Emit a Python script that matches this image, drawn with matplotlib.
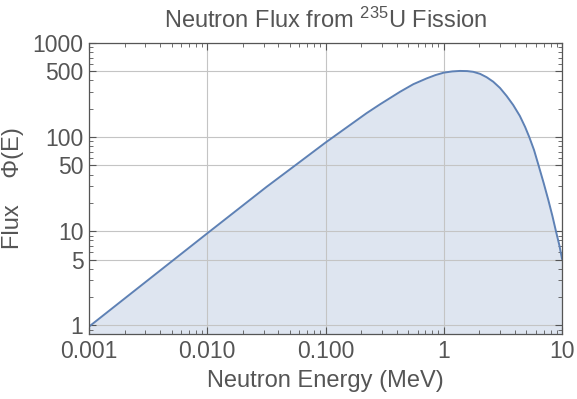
import matplotlib
matplotlib.use("Agg")
import matplotlib.pyplot as plt
from matplotlib.ticker import FixedLocator, FixedFormatter, LogLocator, NullFormatter

# values
energy = [0.001, 0.01, 0.0316, 0.0571, 0.1, 0.223, 0.289, 0.4266, 0.553,
          0.718, 0.85, 1.0, 1.18, 1.372, 1.58, 1.778, 2.03, 2.305, 2.62,
          2.99, 3.4, 3.87, 4.4, 4.88, 5.29, 5.8, 6.31, 7.0, 7.66, 8.3,
          8.89, 9.5, 10.0]
flux = [0.97, 9.5, 29.5, 51.5, 87.5, 180, 223, 303, 365,
        421, 456, 484, 499, 505, 503, 494, 470, 433, 388,
        333, 274, 219, 168, 128, 100, 73, 51, 32.5, 21.5, 14.5,
        10, 7.1, 5.1]

x_ticks = [0.001, 0.01, 0.1, 1, 10]
x_tick_labels = ["0.001", "0.010", "0.100", "1", "10"]
y_ticks = [1, 5, 10, 50, 100, 500, 1000]
y_tick_labels = ["1", "5", "10", "50", "100", "500", "1000"]

plt.rcParams['font.family'] = ['Liberation Sans', 'DejaVu Sans']
plt.rcParams['mathtext.fontset'] = 'custom'
plt.rcParams['mathtext.rm'] = 'Liberation Sans'
plt.rcParams['mathtext.default'] = 'regular'

text_col = '#555555'
line_col = '#5e81b5'

fig = plt.figure(figsize=(5.77, 3.99), dpi=100)
ax = fig.add_axes([89/577, 1 - 334/399, (562 - 89)/577, (334 - 43)/399])

ymin = 0.81
ax.fill_between(energy, flux, ymin, color=line_col, alpha=0.2, lw=0)
ax.plot(energy, flux, color=line_col, lw=1.4)

ax.set_xscale('log')
ax.set_yscale('log')
ax.set_xlim(0.001, 10)
ax.set_ylim(ymin, 1000)

ax.xaxis.set_major_locator(FixedLocator(x_ticks))
ax.xaxis.set_major_formatter(FixedFormatter(x_tick_labels))
ax.xaxis.set_minor_locator(LogLocator(base=10, subs=range(2, 10), numticks=20))
ax.xaxis.set_minor_formatter(NullFormatter())
ax.yaxis.set_major_locator(FixedLocator(y_ticks))
ax.yaxis.set_major_formatter(FixedFormatter(y_tick_labels))
ax.yaxis.set_minor_locator(LogLocator(base=10, subs=[2, 3, 4, 6, 7, 8, 9], numticks=20))
ax.yaxis.set_minor_formatter(NullFormatter())

ax.grid(True, which='major', color='#c4c4c4', lw=0.8)
ax.tick_params(which='both', direction='in', top=True, right=True,
               color='#555555', labelsize=16.5, labelcolor=text_col)
ax.tick_params(which='major', length=5, width=0.8)
ax.tick_params(which='minor', length=3, width=0.6)
ax.tick_params(axis='x', pad=4)
ax.tick_params(axis='y', pad=4)
for s in ax.spines.values():
    s.set_color('#555555')
    s.set_linewidth(0.9)

ax.set_title('Neutron Flux from $^{235}$U Fission', fontsize=17, color=text_col, pad=11)
ax.set_xlabel('Neutron Energy (MeV)', fontsize=17, color=text_col, labelpad=5)
ax.set_ylabel('Flux    \u03a6(E)', fontsize=17, color=text_col, labelpad=6)

plt.savefig('out.png', dpi=100)
